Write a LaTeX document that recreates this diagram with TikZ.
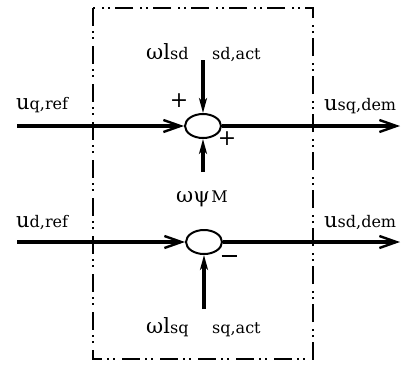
\documentclass[tikz,border=0pt]{standalone}
\usepackage{fontspec}
\setmainfont{DejaVu Serif}
\usetikzlibrary{arrows.meta,shapes.geometric}
\newcommand{\mainsz}{\fontsize{21}{24}\selectfont}
\newcommand{\subsz}{\fontsize{16}{19}\selectfont}
\newcommand{\lbl}[2]{{\mainsz #1}{\subsz #2}}
\begin{document}
\begin{tikzpicture}[x=1pt,y=-1pt,
  sig/.style={line width=3.2pt},
  sumnode/.style={draw,line width=2pt,ellipse,minimum width=36pt,minimum height=24pt,inner sep=0pt},
  harrow/.style={sig,-{Straight Barb[length=17pt,width=12pt,line width=2.4pt]}},
  varrow/.style={sig,-{Stealth[length=15pt,width=8pt,inset=4pt]}},
  boxline/.style={line width=2.4pt,dash pattern=on 18pt off 5pt on 2pt off 4pt on 2pt off 7pt},
  txt/.style={inner sep=0pt,anchor=base west},
  sign/.style={inner sep=0pt,font=\fontsize{22}{24}\selectfont}
]
\useasboundingbox (0,0) rectangle (404,365);
% box
\draw[boxline] (93,8) rectangle (313,359);
% summing junctions
\node[sumnode] (s1) at (203,126) {};
\node[sumnode] (s2) at (204,242) {};
% input / output coordinates
\coordinate (qin) at (17,126);
\coordinate (qout) at (400,126);
\coordinate (din) at (17,242);
\coordinate (dout) at (400,242);
\coordinate (ltop) at (203,60);
\coordinate (psi) at (203,172);
\coordinate (lbot) at (204,309);
% connectors
\draw[harrow] (qin) -- (s1.west);
\draw[harrow] (s1.east) -- (qout);
\draw[harrow] (din) -- (s2.west);
\draw[harrow] (s2.east) -- (dout);
\draw[varrow] (ltop) -- (s1.north);
\draw[varrow] (psi) -- (s1.south);
\draw[varrow] (lbot) -- (s2.south);
% labels
\node[txt] (uqref) at (16,109) {\lbl{u}{q,ref}};
\node[txt] (usqdem) at (324,110) {\lbl{u}{sq,dem}};
\node[txt] (udref) at (16,227) {\lbl{u}{d,ref}};
\node[txt] (usddem) at (324,227) {\lbl{u}{sd,dem}};
\node[txt] (lsd) at (146,59) {\lbl{ωl}{sd}};
\node[txt] (lsdact) at (212,59) {\subsz sd,act};
\node[txt] (lsq) at (146,333) {\lbl{ωl}{sq}};
\node[txt] (lsqact) at (212,333) {\subsz sq,act};
\node[txt] (psim) at (176,202) {{\mainsz ωψ}\,{\subsz M}};
\node[sign] (p1) at (179,101) {+};
\node[sign] (p2) at (227,139) {+};
\node[sign] (m1) at (229,256) {\rule{15pt}{2pt}};
\end{tikzpicture}
\end{document}
